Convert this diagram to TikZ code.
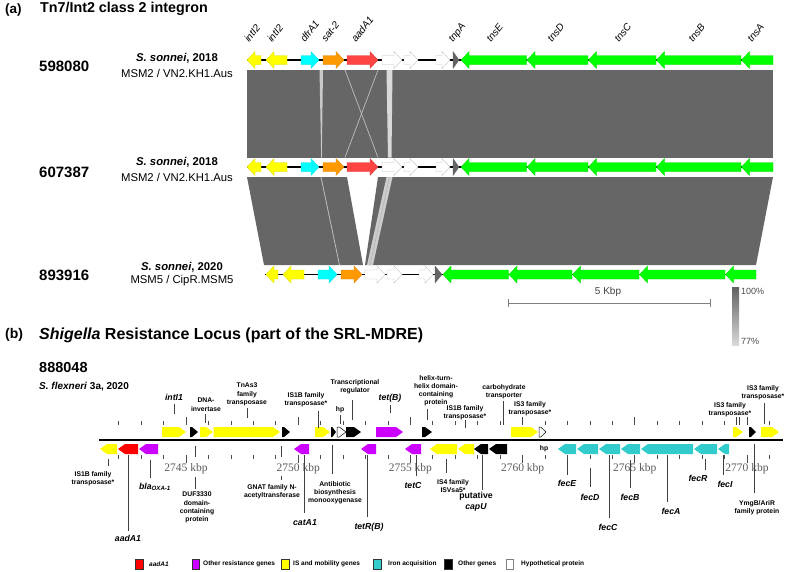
\documentclass[tikz,border=0pt]{standalone}
\usepackage{fontspec}
\setmainfont{Liberation Sans}
\newfontfamily\serifnum{Liberation Serif}
\definecolor{ayellow}{RGB}{255,255,0}
\definecolor{acyan}{RGB}{0,255,255}
\definecolor{aorange}{RGB}{255,153,0}
\definecolor{ared}{RGB}{255,68,68}
\definecolor{agreen}{RGB}{0,255,0}
\definecolor{adark}{RGB}{100,100,100}
\definecolor{bandgray}{RGB}{102,102,102}
\definecolor{bred}{RGB}{255,0,0}
\definecolor{bmag}{RGB}{204,0,255}
\definecolor{bcyan}{RGB}{51,204,204}
\newcommand{\agene}[5]{%
  \pgfmathsetmacro{\gl}{min(8,(#2)-(#1))}%
  \if#4r%
    \path[#5] (#1,#3-4.5) -- ({#2-\gl},#3-4.5) -- ({#2-\gl},#3-8.5) -- (#2,#3) -- ({#2-\gl},#3+8.5) -- ({#2-\gl},#3+4.5) -- (#1,#3+4.5) -- cycle;%
  \else
    \path[#5] (#2,#3-4.5) -- ({#1+\gl},#3-4.5) -- ({#1+\gl},#3-8.5) -- (#1,#3) -- ({#1+\gl},#3+8.5) -- ({#1+\gl},#3+4.5) -- (#2,#3+4.5) -- cycle;%
  \fi}
\newcommand{\bgene}[5]{%
  \pgfmathsetmacro{\gl}{min(7,0.75*((#2)-(#1)))}%
  \if#4r%
    \path[#5] (#1,#3-5) -- ({#2-\gl},#3-5) -- (#2,#3) -- ({#2-\gl},#3+5) -- (#1,#3+5) -- cycle;%
  \else
    \path[#5] (#2,#3-5) -- ({#1+\gl},#3-5) -- (#1,#3) -- ({#1+\gl},#3+5) -- (#2,#3+5) -- cycle;%
  \fi}
\tikzset{
  gy/.style={fill=ayellow, draw=ayellow!85!black, line width=0.3},
  gc/.style={fill=acyan, draw=acyan!85!black, line width=0.3},
  go/.style={fill=aorange, draw=aorange!85!black, line width=0.3},
  gr/.style={fill=ared, draw=ared!85!black, line width=0.3},
  gw/.style={fill=white, draw=black!25, line width=0.4},
  gd/.style={fill=adark, draw=adark, line width=0.3},
  gg/.style={fill=agreen, draw=agreen!85!black, line width=0.3},
  by/.style={fill=ayellow},
  bk/.style={fill=black},
  bm/.style={fill=bmag},
  br/.style={fill=bred},
  bc/.style={fill=bcyan},
  bw/.style={fill=white, draw=black, line width=0.5},
  glab/.style={rotate=52, anchor=base west, inner sep=0, font=\itshape\fontsize{10}{11}\selectfont},
  slab/.style={inner sep=0, align=center, font=\bfseries\fontsize{6.8}{8.2}\selectfont},
  genel/.style={inner sep=0, font=\bfseries\itshape\fontsize{8.7}{10}\selectfont},
  tickl/.style={inner sep=0, text=black!65, font=\serifnum\fontsize{11.5}{12}\selectfont},
  tk/.style={draw=black!70, line width=0.7},
  ld/.style={draw=black!75, line width=0.9},
  legt/.style={anchor=west, inner sep=0, font=\bfseries\fontsize{6.5}{7.5}\selectfont},
  legb/.style={draw=black!80, line width=0.5}
}
\begin{document}
\begin{tikzpicture}[x=1pt,y=-1pt]
\useasboundingbox (0,0) rectangle (787,571);
% ---------------- part (a) ----------------
\node[anchor=west, inner sep=0, font=\bfseries\fontsize{13.5}{16}\selectfont] (pa) at (5,10) {(a)};
\node[anchor=west, inner sep=0, font=\bfseries\fontsize{14.3}{18}\selectfont] (ta) at (40,9) {Tn7/Int2 class 2 integron};
% row labels
\node[anchor=west, inner sep=0, font=\bfseries\fontsize{15}{17}\selectfont] (r1) at (39,66) {598080};
\node[inner sep=0, font=\fontsize{11.3}{13}\selectfont] (s1) at (177,58) {\textbf{\textit{S. sonnei}, 2018}};
\node[inner sep=0, font=\fontsize{11.3}{13}\selectfont] (m1) at (177,73) {MSM2 / VN2.KH1.Aus};
\node[anchor=west, inner sep=0, font=\bfseries\fontsize{15}{17}\selectfont] (r2) at (39,172) {607387};
\node[inner sep=0, font=\fontsize{11.3}{13}\selectfont] (s2) at (177,162) {\textbf{\textit{S. sonnei}, 2018}};
\node[inner sep=0, font=\fontsize{11.3}{13}\selectfont] (m2) at (177,177) {MSM2 / VN2.KH1.Aus};
\node[anchor=west, inner sep=0, font=\bfseries\fontsize{15}{17}\selectfont] (r3) at (39,275) {893916};
\node[inner sep=0, font=\fontsize{11.3}{13}\selectfont] (s3) at (182,267) {\textbf{\textit{S. sonnei}, 2020}};
\node[inner sep=0, font=\fontsize{11.3}{13}\selectfont] (m3) at (182,281) {MSM5 / CipR.MSM5};
% comparison bands
\fill[bandgray] (247,70) rectangle (773,157.5);
\fill[gray!42] (319.5,70) -- (323,70) -- (321.8,157.5) -- (321.2,157.5) -- cycle;
\draw[gray!50, line width=0.7] (345,70) -- (378,157.5);
\draw[gray!50, line width=0.7] (378,70) -- (345,157.5);
\fill[gray!30] (386.5,70) -- (392.5,70) -- (391.5,157.5) -- (388,157.5) -- cycle;
\fill[bandgray] (247,177) -- (347,177) -- (363,265) -- (264,265) -- cycle;
\fill[bandgray] (378,177) -- (773,177) -- (756,265) -- (365,265) -- cycle;
\draw[gray!50, line width=0.8] (321,177) -- (339.5,265);
\fill[gray!40] (386.5,177) -- (392.5,177) -- (373,265) -- (367,265) -- cycle;
\draw[gray!65, line width=0.4] (389.5,177) -- (370,265);
% tracks
\draw[black, line width=1.5] (247,60) -- (773,60);
\draw[black, line width=1.5] (247,167) -- (773,167);
\draw[black, line width=1.5] (265,274.5) -- (756,274.5);
% row 1 and row 2 genes
\foreach \yy in {60,167}{
  \agene{247}{261}{\yy}{l}{gy}
  \agene{266}{287}{\yy}{l}{gy}
  \agene{301}{319}{\yy}{r}{gc}
  \agene{323}{344}{\yy}{r}{go}
  \agene{347}{378}{\yy}{r}{gr}
  \agene{382}{402}{\yy}{r}{gw}
  \agene{404}{418}{\yy}{r}{gw}
  \agene{436}{450}{\yy}{r}{gw}
  \agene{453}{459}{\yy}{r}{gd}
  \agene{461}{526.5}{\yy}{l}{gg}
  \agene{527}{588}{\yy}{l}{gg}
  \agene{588.5}{656}{\yy}{l}{gg}
  \agene{656.5}{741}{\yy}{l}{gg}
  \agene{741.5}{773}{\yy}{l}{gg}
}
% row 3 genes
\agene{266}{278}{274.5}{l}{gy}
\agene{283}{304}{274.5}{l}{gy}
\agene{318}{337}{274.5}{r}{gc}
\agene{341}{362}{274.5}{r}{go}
\agene{365}{385}{274.5}{r}{gw}
\agene{387}{402}{274.5}{r}{gw}
\agene{419}{433}{274.5}{r}{gw}
\agene{435}{442}{274.5}{r}{gd}
\agene{443}{508.5}{274.5}{l}{gg}
\agene{509}{572}{274.5}{l}{gg}
\agene{572.5}{639}{274.5}{l}{gg}
\agene{639.5}{725}{274.5}{l}{gg}
\agene{725.5}{756}{274.5}{l}{gg}
% gene labels
\foreach \x/\t/\n in {249/intI2/ga1, 272/intI2/ga2, 305/dfrA1/ga3, 326/sat-2/ga4, 356/aadA1/ga5, 453/tnpA/ga6, 491/tnsE/ga7, 552/tnsD/ga8, 619/tnsC/ga9, 693/tnsB/ga10, 752/tnsA/ga11}
  \node[glab] (\n) at (\x,43) {\t};
% scale bar and identity legend
\node[inner sep=0, text=black!75, font=\fontsize{10}{12}\selectfont] (kb) at (608,292) {5 Kbp};
\coordinate (sbl) at (508,303);
\coordinate (sbr) at (710,303);
\draw[gray, line width=0.8] (sbl) -- (sbr);
\draw[gray, line width=0.8] ([yshift=-4pt]sbl) -- ([yshift=4pt]sbl);
\draw[gray, line width=0.8] ([yshift=-4pt]sbr) -- ([yshift=4pt]sbr);
\shade[top color=black!62, bottom color=black!15] (732,287) rectangle (739,345);
\node[anchor=west, inner sep=0, text=black!70, font=\fontsize{9}{10}\selectfont] (p100) at (741,291) {100\%};
\node[anchor=west, inner sep=0, text=black!70, font=\fontsize{9}{10}\selectfont] (p77) at (741,341) {77\%};
% ---------------- part (b) ----------------
\node[anchor=west, inner sep=0, font=\bfseries\fontsize{14}{16}\selectfont] (pb) at (5,335) {(b)};
\node[anchor=west, inner sep=0, font=\bfseries\fontsize{16}{18}\selectfont] (tb) at (39,335) {\textit{Shigella} Resistance Locus (part of the SRL-MDRE)};
\node[anchor=west, inner sep=0, font=\bfseries\fontsize{14.5}{16}\selectfont] (iso) at (39,368) {888048};
\node[anchor=west, inner sep=0, font=\bfseries\fontsize{10}{12}\selectfont] (sf) at (39,387) {\textit{S. flexneri} 3a, 2020};
% ticks
\foreach \k in {2742,...,2771}{
  \pgfmathsetmacro{\xx}{186+(\k-2745)*22.44}
  \draw[tk] (\xx,421) -- (\xx,425);
  \draw[tk] (\xx,455) -- (\xx,459);
}
\foreach \k in {2745,2750,...,2770}{
  \pgfmathsetmacro{\xx}{186+(\k-2745)*22.44}
  \draw[tk] (\xx,417) -- (\xx,425);
  \draw[tk] (\xx,455) -- (\xx,463);
  \node[tickl] (t\k) at (\xx,469) {\k\ kbp};
}
% main line
\draw[black, line width=1.6] (99,440) -- (783,440);
% top strand genes
\bgene{162}{186}{432}{r}{by}
\bgene{190}{198}{432}{r}{bk}
\bgene{200}{213}{432}{r}{by}
\bgene{213.5}{280}{432}{r}{by}
\bgene{282}{290}{432}{r}{bk}
\bgene{315}{330}{432}{r}{by}
\bgene{331}{336}{432}{r}{bk}
\bgene{337}{346}{432}{r}{bw}
\bgene{346}{361}{432}{r}{bk}
\bgene{376}{403}{432}{r}{bm}
\bgene{422}{432}{432}{r}{bk}
\bgene{511}{538}{432}{r}{by}
\bgene{539}{546}{432}{r}{bw}
\bgene{733}{743}{432}{r}{by}
\bgene{749}{756}{432}{r}{bk}
\bgene{761}{779}{432}{r}{by}
% bottom strand genes
\bgene{100}{117}{449}{l}{by}
\bgene{118}{138}{449}{l}{br}
\bgene{139}{158}{449}{l}{bm}
\bgene{294}{309}{449}{l}{bm}
\bgene{361}{376}{449}{l}{bm}
\bgene{405}{421}{449}{l}{bm}
\bgene{430}{457}{449}{l}{by}
\bgene{458}{474}{449}{l}{by}
\bgene{474}{488}{449}{l}{bk}
\bgene{489}{507}{449}{l}{bk}
\bgene{558}{576}{449}{l}{bc}
\bgene{577}{598}{449}{l}{bc}
\bgene{599}{620}{449}{l}{bc}
\bgene{621}{640}{449}{l}{bc}
\bgene{641}{693}{449}{l}{bc}
\bgene{694}{717}{449}{l}{bc}
\bgene{718}{729}{449}{l}{bc}
% top labels
\node[genel] (intI) at (174,397) {intI1};
\draw[ld] (174,404) -- (174,414);
\node[slab, anchor=north] (dna) at (206,398) {DNA-\\invertase};
\draw[ld] (205,414) -- (205,423);
\node[slab, anchor=north] (tnas) at (247,383) {TnAs3\\family\\transposase};
\draw[ld] (247,408) -- (247,418);
\node[slab, anchor=north] (isb1) at (306,392) {IS1B family\\transposase*};
\draw[ld] (318,411) -- (318,428);
\node[slab] (hp1) at (340,410) {hp};
\draw[ld] (340,415) -- (340,424);
\node[slab, anchor=north] (treg) at (355,379) {Transcriptional\\regulator};
\draw[ld] (352,400) -- (352,420);
\node[genel] (tetB) at (390,398) {tet(B)};
\draw[ld] (390,405) -- (390,413);
\node[slab, anchor=north] (hth) at (436,375) {helix-turn-\\helix domain-\\containing\\protein};
\draw[ld] (427,409) -- (427,420);
\node[slab, anchor=north] (isb2) at (465,405) {IS1B family\\transposase*};
\draw[ld] (465,420) -- (465,428);
\node[slab, anchor=north] (carb) at (504,384) {carbohydrate\\transporter};
\draw[ld] (503,401) -- (503,425);
\node[slab, anchor=north] (is3a) at (530,401) {IS3 family\\transposase*};
\draw[ld] (522,417) -- (522,425);
\node[slab, anchor=north] (is3b) at (730,402) {IS3 family\\transposase*};
\draw[ld] (736,417) -- (736,425);
\draw[ld] (739,417) -- (739,425);
\draw[ld] (747,417) -- (747,425);
\node[slab, anchor=north] (is3c) at (763,385) {IS3 family\\transposase*};
\draw[ld] (764,403) -- (764,424);
% bottom labels
\node[slab, anchor=north] (isb0) at (93,471) {IS1B family\\transposase*};
\draw[ld] (108,459) -- (108,466);
\node[genel] (aad) at (128,538) {aadA1};
\draw[ld] (128,455) -- (128,531);
\node[genel] (bla) at (155,487) {bla\textsubscript{OXA-1}};
\draw[ld] (150,460) -- (150,478);
\node[slab, anchor=north] (duf) at (197,492) {DUF3330\\domain-\\containing\\protein};
\draw[ld] (195,446) -- (195,457);
\draw[ld] (195,477) -- (195,489);
\node[slab, anchor=north] (gnat) at (272,484) {GNAT family N-\\acetyltransferase};
\draw[ld] (281,446) -- (281,457);
\draw[ld] (281,476) -- (281,480);
\node[genel] (cat) at (305,523) {catA1};
\draw[ld] (304,455) -- (304,513);
\node[slab, anchor=north] (abm) at (335,481) {Antibiotic\\biosynthesis\\monooxygenase};
\draw[ld] (332,445) -- (332,474);
\node[genel] (tetR) at (369,527) {tetR(B)};
\draw[ld] (367,455) -- (367,517);
\node[genel] (tetC) at (413,485) {tetC};
\draw[ld] (416,455) -- (416,476);
\node[slab, anchor=north] (is4) at (453,479) {IS4 family\\ISVsa5*};
\draw[ld] (446,459) -- (446,473);
\node[inner sep=0, align=center, font=\bfseries\fontsize{8.7}{11}\selectfont, anchor=north] (capU) at (476,492) {putative\\\textit{capU}};
\draw[ld] (482,455) -- (482,490);
\node[slab] (hp2) at (544,449) {hp};
\node[genel] (fecE) at (567,483) {fecE};
\draw[ld] (567,459) -- (567,475);
\node[genel] (fecD) at (590,497) {fecD};
\draw[ld] (590,468) -- (590,487);
\node[genel] (fecC) at (608,527) {fecC};
\draw[ld] (609,455) -- (609,518);
\node[genel] (fecB) at (630,497) {fecB};
\draw[ld] (630,460) -- (630,488);
\node[genel] (fecA) at (671,511) {fecA};
\draw[ld] (667,455) -- (667,502);
\node[genel] (fecR) at (698,478) {fecR};
\draw[ld] (705,459) -- (705,470);
\node[genel] (fecI) at (725,484) {fecI};
\draw[ld] (723,455) -- (723,475);
\node[slab, anchor=north] (ymg) at (757,500) {YmgB/AriR\\family protein};
\draw[ld] (754,444) -- (754,493);
% legend
\draw[legb, fill=bred] (135,559) rectangle (143,569);
\node[legt] (lg1) at (149,564) {\textit{aadA1}};
\draw[legb, fill=bmag] (192,559) rectangle (199,569);
\node[legt] (lg2) at (203,564) {Other resistance genes};
\draw[legb, fill=ayellow] (281,559) rectangle (289,569);
\node[legt] (lg3) at (293,564) {IS and mobility genes};
\draw[legb, fill=bcyan] (373,559) rectangle (381,569);
\node[legt] (lg4) at (388,564) {Iron acquisition};
\draw[legb, fill=black] (444,559) rectangle (452,569);
\node[legt] (lg5) at (458,564) {Other genes};
\draw[legb, draw=black!50, fill=white] (506,559) rectangle (513,569);
\node[legt] (lg6) at (521,564) {Hypothetical protein};
\end{tikzpicture}
\end{document}
